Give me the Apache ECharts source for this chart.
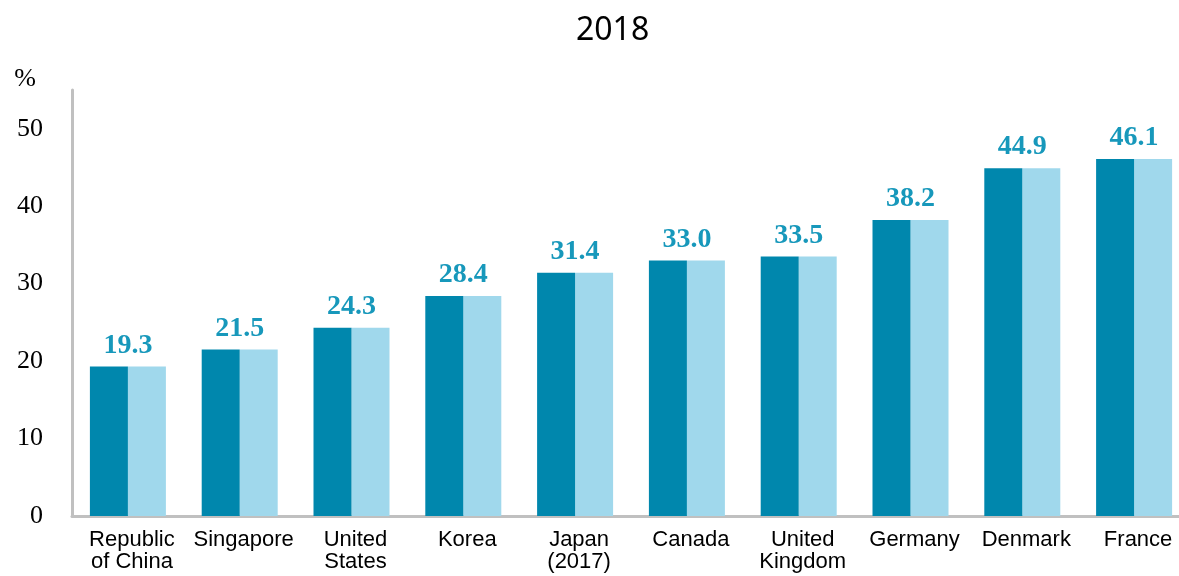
<!DOCTYPE html>
<html>
<head>
<meta charset="utf-8">
<script src="https://cdn.jsdelivr.net/npm/echarts@6/dist/echarts.min.js"></script>
<style>html,body{margin:0;padding:0;background:#fff}#c{width:1179px;height:576px}</style>
</head>
<body>
<div id="c"></div>
<script>
const categories = ['Republic\nof China', 'Singapore', 'United\nStates', 'Korea', 'Japan\n(2017)', 'Canada', 'United\nKingdom', 'Germany', 'Denmark', 'France'];
const values = [19.3, 21.5, 24.3, 28.4, 31.4, 33.0, 33.5, 38.2, 44.9, 46.1];
const yTicks = [0, 10, 20, 30, 40, 50];
const titleText = '2018';
const unitText = '%';

const chart = echarts.init(document.getElementById('c'));
const halfW = 38;
chart.setOption({
  animation: false,
  title: {
    text: titleText, left: 571, top: 10,
    textStyle: {fontFamily: 'Noto Sans', fontWeight: 'normal', fontSize: 32, color: '#000'}
  },
  grid: {left: 72, right: -11, top: 90, bottom: 60, outerBoundsMode: 'none', containLabel: false},
  xAxis: {
    type: 'category',
    data: categories,
    axisLine: {show: true, lineStyle: {color: '#c0c0c0', width: 3}},
    axisTick: {show: false},
    axisLabel: {
      interval: 0, margin: 13, color: '#000', fontFamily: 'Liberation Sans',
      fontSize: 22, lineHeight: 22, padding: [0, 0, 0, 8]
    }
  },
  yAxis: {
    type: 'value', min: 0, max: 55, interval: 10,
    name: unitText, nameLocation: 'end', nameGap: -2,
    nameTextStyle: {fontFamily: 'Liberation Serif', fontSize: 26, color: '#000', align: 'right', padding: [0, 36, 0, 0]},
    axisLine: {show: true, lineStyle: {color: '#c0c0c0', width: 3}},
    axisTick: {show: false},
    splitLine: {show: false},
    axisLabel: {
      margin: 29, color: '#000', fontFamily: 'Liberation Serif', fontSize: 26,
      formatter: v => yTicks.includes(v) ? String(v) : ''
    }
  },
  series: [
    {
      type: 'bar', data: values, barWidth: halfW, barGap: '0%',
      itemStyle: {color: '#0087ad'},
      label: {
        show: true, position: 'top', distance: 7, offset: [halfW / 2, 0],
        formatter: p => p.value.toFixed(1),
        fontFamily: 'Liberation Serif', fontWeight: 'bold', fontSize: 28, color: '#1798bb'
      },
      z: 3
    },
    {
      type: 'bar', data: values, barWidth: halfW, barGap: '0%',
      itemStyle: {color: '#a0d8ec'}
    }
  ]
});
</script>
</body>
</html>
